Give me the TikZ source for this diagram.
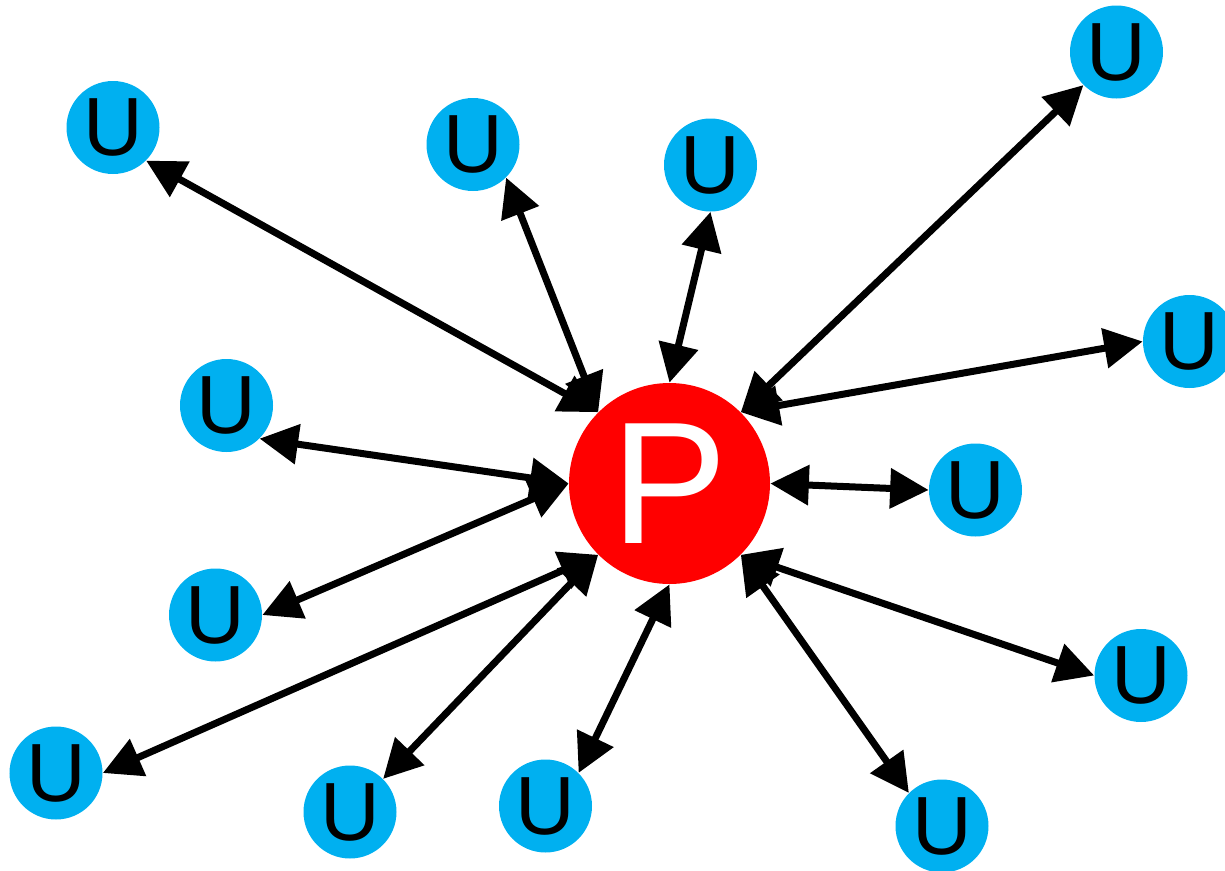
\documentclass[tikz,border=0pt]{standalone}
\usepackage{fontspec}
\setmainfont{Liberation Sans}
\usetikzlibrary{arrows.meta}
\definecolor{ublue}{RGB}{0,176,240}
\tikzset{
  user/.style={circle, fill=ublue, inner sep=0pt, minimum size=1.86cm,
    font=\fontsize{47}{47}\selectfont, text=black},
  peer/.style={circle, fill=red, inner sep=0pt, minimum size=4.02cm,
    font=\fontsize{99}{99}\selectfont, text=white},
  link/.style={line width=.14cm, {Triangle[length=.77cm, width=.78cm]}-{Triangle[length=.77cm, width=.78cm]}}
}
\begin{document}
\begin{tikzpicture}
  \useasboundingbox (0, 0) rectangle (24.5, -17.4);
    %%centre
    \node[peer] (p) at (13.39, -9.67) {P};
    %%top row
    \node[user] (u1) at (2.26, -2.55) {U};
    \node[user] (u2) at (9.46, -2.89) {U};
    \node[user] (u3) at (14.21, -3.30) {U};
    \node[user] (u4) at (22.33, -1.04) {U};
    \node[user] (u5) at (23.79, -6.83) {U};
    %%middle
    \node[user] (u6) at (4.53, -8.11) {U};
    \node[user] (u7) at (19.51, -9.80) {U};
    \node[user] (u8) at (4.31, -12.30) {U};
    \node[user] (u9) at (22.82, -13.51) {U};
    %%bottom row
    \node[user] (u10) at (1.12, -15.46) {U};
    \node[user] (u11) at (7.00, -16.24) {U};
    \node[user] (u12) at (10.91, -16.12) {U};
    \node[user] (u13) at (18.84, -16.52) {U};

    %%links
    \draw[link] (u1.south east) -- (p.north west);
    \draw[link] (u2.south east) -- (p.north west);
    \draw[link] (u3.south) -- (p.north);
    \draw[link] (u4.south west) -- (p.north east);
    \draw[link] (u5.west) -- (p.north east);
    \draw[link] (u6.south east) -- (p.west);
    \draw[link] (u7.west) -- (p.east);
    \draw[link] (u8.east) -- (p.west);
    \draw[link] (u9.west) -- (p.south east);
    \draw[link] (u10.east) -- (p.south west);
    \draw[link] (u11.north east) -- (p.south west);
    \draw[link] (u12.north east) -- (p.south);
    \draw[link] (u13.north west) -- (p.south east);
\end{tikzpicture}
\end{document}
